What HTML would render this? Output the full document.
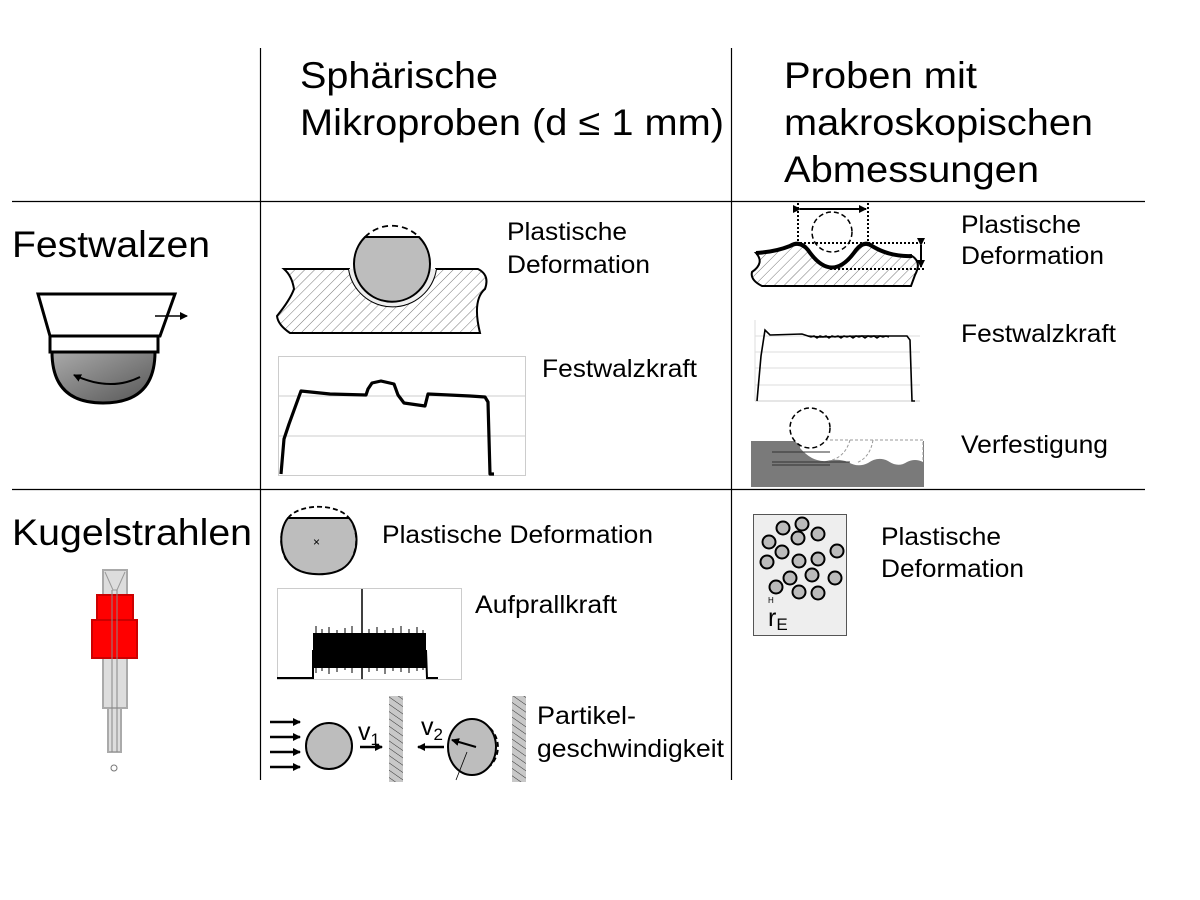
<!DOCTYPE html>
<html><head><meta charset="utf-8"><style>
html,body{margin:0;padding:0;background:#fff;}
svg{display:block;}
text{font-family:"Liberation Sans",Arial,sans-serif;fill:#000;}
</style></head><body>
<svg width="1200" height="900" viewBox="0 0 1200 900" xmlns="http://www.w3.org/2000/svg">
<defs>
<pattern id="h" width="7" height="7" patternUnits="userSpaceOnUse" patternTransform="rotate(45)">
<rect width="7" height="7" fill="#fff"/><line x1="0" y1="0" x2="0" y2="7" stroke="#777" stroke-width="1"/></pattern>
<pattern id="hw" width="6" height="6" patternUnits="userSpaceOnUse" patternTransform="rotate(-55)">
<rect width="6" height="6" fill="#c8c8c8"/><line x1="0" y1="0" x2="0" y2="6" stroke="#333" stroke-width="1"/></pattern>
<linearGradient id="g" x1="0" y1="0" x2="1" y2="1"><stop offset="0" stop-color="#aaa"/><stop offset="1" stop-color="#555"/></linearGradient>
<marker id="a" markerWidth="8" markerHeight="8" refX="7" refY="4" orient="auto" markerUnits="userSpaceOnUse"><path d="M0,0 L8,4 L0,8 z" fill="#000"/></marker>
</defs>

<line x1="260.5" y1="48" x2="260.5" y2="780" stroke="#000" stroke-width="1.2"/>
<line x1="731.5" y1="48" x2="731.5" y2="780" stroke="#000" stroke-width="1.2"/>
<line x1="12" y1="201.5" x2="1145" y2="201.5" stroke="#000" stroke-width="1.2"/>
<line x1="12" y1="489.5" x2="1145" y2="489.5" stroke="#000" stroke-width="1.2"/>

<text x="300" y="88" font-size="37" textLength="198" lengthAdjust="spacingAndGlyphs">Sphärische</text>
<text x="300" y="135" font-size="37" textLength="424" lengthAdjust="spacingAndGlyphs">Mikroproben (d ≤ 1 mm)</text>
<text x="784" y="88" font-size="37" textLength="193" lengthAdjust="spacingAndGlyphs">Proben mit</text>
<text x="784" y="135" font-size="37" textLength="309" lengthAdjust="spacingAndGlyphs">makroskopischen</text>
<text x="784" y="182" font-size="37" textLength="255" lengthAdjust="spacingAndGlyphs">Abmessungen</text>

<text x="12" y="257" font-size="37" textLength="198" lengthAdjust="spacingAndGlyphs">Festwalzen</text>
<text x="12" y="545" font-size="37" textLength="240" lengthAdjust="spacingAndGlyphs">Kugelstrahlen</text>

<!-- roller icon -->
<path d="M52,352 L155,352 Q155,403 103,403 Q52,403 52,352 Z" fill="url(#g)" stroke="#000" stroke-width="3"/>
<path d="M38,294 L175,294 L160,336 L50,336 Z" fill="#fff" stroke="#000" stroke-width="3"/>
<rect x="50" y="336" width="108" height="16" fill="#fff" stroke="#000" stroke-width="3"/>
<line x1="155" y1="316" x2="187" y2="316" stroke="#000" stroke-width="1.5" marker-end="url(#a)"/>
<path d="M140,377 Q110,392 74,375" fill="none" stroke="#000" stroke-width="2" marker-end="url(#a)"/>

<!-- ball on workpiece -->
<path d="M284,269 L349,269 A44,44 0 0 0 436,269 L478,269 Q490,275 485,289 Q472,300 480,333 L290,333 Q278,325 277,316 Q290,300 294,289 Q292,276 284,269 Z" fill="url(#h)" stroke="#000" stroke-width="2"/>
<path d="M349,269 A44,44 0 0 0 436,269 Z" fill="#eee"/>
<path d="M365,237 L419,237 A38,38 0 1 1 365,237 Z" fill="#bdbdbd" stroke="#000" stroke-width="2"/>
<path d="M365,237 A38,38 0 0 1 419,237" fill="none" stroke="#000" stroke-width="1.8" stroke-dasharray="6,4"/>
<text x="507" y="240" font-size="25" textLength="120" lengthAdjust="spacingAndGlyphs">Plastische</text>
<text x="507" y="273" font-size="25" textLength="143" lengthAdjust="spacingAndGlyphs">Deformation</text>

<!-- chart 1 -->
<rect x="278.5" y="356.5" width="247" height="119" fill="#fff" stroke="#ccc"/>
<line x1="278" y1="396" x2="525" y2="396" stroke="#ccc"/>
<line x1="278" y1="436" x2="525" y2="436" stroke="#ccc"/>
<polyline points="281,474 284,439 289,424 301,391 330,394 366,395 368,389 372,383 381,381 394,384 398,395 404,403 425,406 428,394 470,396 485,397 488,402 490,474 494,474" fill="none" stroke="#000" stroke-width="3.2" stroke-linejoin="round"/>
<text x="542" y="377" font-size="25" textLength="155" lengthAdjust="spacingAndGlyphs">Festwalzkraft</text>

<!-- right fig 1 -->
<line x1="798" y1="203" x2="798" y2="243" stroke="#000" stroke-width="2" stroke-dasharray="2,2"/>
<line x1="868" y1="203" x2="868" y2="243" stroke="#000" stroke-width="2" stroke-dasharray="2,2"/>
<line x1="800" y1="209" x2="866" y2="209" stroke="#000" stroke-width="2" marker-end="url(#a)" marker-start="url(#a)"/>
<path d="M756,253 Q775,252 790,246 Q800,240 808,250 Q832,285 856,250 Q864,240 872,246 Q890,257 912,256 Q922,262 915,275 L911,286 L762,286 Q750,280 752,272 Q765,263 756,253 Z" fill="url(#h)" stroke="#000" stroke-width="2"/>
<path d="M756,253 Q775,252 790,246 Q800,240 808,250 Q832,285 856,250 Q864,240 872,246 Q890,257 912,256" fill="none" stroke="#000" stroke-width="4"/>
<circle cx="832" cy="232" r="20" fill="none" stroke="#000" stroke-width="1.5" stroke-dasharray="5,3"/>
<line x1="800" y1="243" x2="925" y2="243" stroke="#000" stroke-width="2" stroke-dasharray="2,2"/>
<line x1="830" y1="269" x2="925" y2="269" stroke="#000" stroke-width="2" stroke-dasharray="2,2"/>
<line x1="921" y1="245" x2="921" y2="267" stroke="#000" stroke-width="2" marker-end="url(#a)" marker-start="url(#a)"/>
<text x="961" y="233" font-size="25" textLength="120" lengthAdjust="spacingAndGlyphs">Plastische</text>
<text x="961" y="264" font-size="25" textLength="143" lengthAdjust="spacingAndGlyphs">Deformation</text>

<!-- chart 2 -->
<line x1="755" y1="336" x2="920" y2="336" stroke="#ddd"/>
<line x1="755" y1="352" x2="920" y2="352" stroke="#ddd"/>
<line x1="755" y1="368" x2="920" y2="368" stroke="#ddd"/>
<line x1="755" y1="385" x2="920" y2="385" stroke="#ddd"/>
<line x1="755" y1="401" x2="920" y2="401" stroke="#ccc"/>
<line x1="755" y1="320" x2="755" y2="401" stroke="#ddd"/>
<polyline points="757,401 761,356 765,330 770,335 802,334 808,336 820,337 860,336 880,336 907,336 910,340 912,401 915,401" fill="none" stroke="#000" stroke-width="1.6"/>
<path d="M808,336 l3,1 3,-1 3,2 3,-2 3,1 3,-1 3,2 3,-2 3,1 3,-1 3,2 3,-2 3,1 3,-1 3,2 3,-2 3,1 3,-1 3,2 3,-2 3,1 3,-1 3,2 3,-2 3,1 3,-1 3,1" fill="none" stroke="#000" stroke-width="1.5"/>
<text x="961" y="342" font-size="25" textLength="155" lengthAdjust="spacingAndGlyphs">Festwalzkraft</text>

<!-- Verfestigung -->
<rect x="751" y="441" width="173" height="46" fill="#7a7a7a"/>
<path d="M800,440 L923,440 L923,462 Q915,458 907,462 Q898,468 888,461 Q878,456 868,463 Q858,468 848,462 Q838,458 826,461 Q812,462 800,448 Z" fill="#fff"/>
<path d="M800,440 L923,440 L923,462" fill="none" stroke="#999" stroke-dasharray="3,2"/>
<circle cx="810" cy="428" r="20" fill="#fff" stroke="#000" stroke-width="1.5" stroke-dasharray="5,3"/>
<path d="M850,440 Q845,458 828,461 M873,440 Q870,458 856,463" fill="none" stroke="#999" stroke-dasharray="3,2"/>
<line x1="772" y1="452" x2="830" y2="452" stroke="#333"/>
<line x1="772" y1="462" x2="850" y2="462" stroke="#333"/>
<line x1="772" y1="465" x2="830" y2="465" stroke="#333"/>
<text x="961" y="453" font-size="25" textLength="147" lengthAdjust="spacingAndGlyphs">Verfestigung</text>

<!-- Kugelstrahlen middle -->
<path d="M288,518 L349,518 C360,530 360,558 342,569 C330,576 308,576 296,569 C278,558 278,530 288,518 Z" fill="#bdbdbd" stroke="#000" stroke-width="2"/>
<path d="M288,518 C300,503 337,503 349,518" fill="none" stroke="#000" stroke-width="1.8" stroke-dasharray="5,3"/>
<path d="M284,525 Q277,542 286,560 M353,525 Q360,542 351,560" fill="none" stroke="#000" stroke-width="1.5" stroke-dasharray="5,3"/>
<text x="313" y="546" font-size="12">×</text>
<text x="382" y="543" font-size="25" textLength="271" lengthAdjust="spacingAndGlyphs">Plastische Deformation</text>

<rect x="277.5" y="588.5" width="184" height="91" fill="#fff" stroke="#ccc"/>
<rect x="313" y="633" width="113" height="35" fill="#000"/>
<g stroke="#000" stroke-width="1">
<line x1="316" y1="626" x2="316" y2="673"/><line x1="322" y1="629" x2="322" y2="671"/><line x1="329" y1="627" x2="329" y2="674"/>
<line x1="337" y1="630" x2="337" y2="672"/><line x1="345" y1="628" x2="345" y2="670"/><line x1="352" y1="626" x2="352" y2="673"/>
<line x1="369" y1="629" x2="369" y2="672"/><line x1="377" y1="627" x2="377" y2="671"/><line x1="385" y1="630" x2="385" y2="674"/>
<line x1="393" y1="628" x2="393" y2="671"/><line x1="401" y1="626" x2="401" y2="672"/><line x1="409" y1="629" x2="409" y2="673"/>
<line x1="417" y1="627" x2="417" y2="671"/><line x1="423" y1="630" x2="423" y2="670"/>
</g>
<line x1="362" y1="589" x2="362" y2="679" stroke="#000" stroke-width="1.5"/>
<polyline points="277,678 313,678 313,650" fill="none" stroke="#000" stroke-width="2"/>
<polyline points="426,650 427,678 438,678" fill="none" stroke="#000" stroke-width="2"/>
<text x="475" y="613" font-size="25" textLength="142" lengthAdjust="spacingAndGlyphs">Aufprallkraft</text>

<g stroke="#000" stroke-width="2.5">
<line x1="270" y1="722" x2="300" y2="722" marker-end="url(#a)"/>
<line x1="270" y1="737" x2="300" y2="737" marker-end="url(#a)"/>
<line x1="270" y1="752" x2="300" y2="752" marker-end="url(#a)"/>
<line x1="270" y1="767" x2="300" y2="767" marker-end="url(#a)"/>
<line x1="360" y1="747" x2="382" y2="747" marker-end="url(#a)"/>
<line x1="444" y1="747" x2="418" y2="747" marker-end="url(#a)"/>
</g>
<circle cx="329" cy="746" r="23" fill="#bdbdbd" stroke="#000" stroke-width="2"/>
<text x="358" y="740" font-size="25">v<tspan font-size="17" dy="5">1</tspan></text>
<rect x="389" y="696" width="14" height="86" fill="url(#hw)"/>
<text x="421" y="735" font-size="25">v<tspan font-size="17" dy="5">2</tspan></text>
<ellipse cx="472" cy="747" rx="24" ry="28" fill="#bdbdbd" stroke="#000" stroke-width="2"/>
<path d="M490,728 A30,28 0 0 1 490,766" fill="none" stroke="#000" stroke-width="1.8" stroke-dasharray="5,3"/>
<line x1="476" y1="747" x2="452" y2="740" stroke="#000" stroke-width="2" marker-end="url(#a)"/>
<line x1="467" y1="752" x2="456" y2="780" stroke="#000" stroke-width="0.8"/>
<rect x="512" y="696" width="14" height="86" fill="url(#hw)"/>
<text x="537" y="724" font-size="25" textLength="99" lengthAdjust="spacingAndGlyphs">Partikel-</text>
<text x="537" y="757" font-size="25" textLength="187" lengthAdjust="spacingAndGlyphs">geschwindigkeit</text>

<!-- nozzle -->
<rect x="108" y="708" width="13" height="44" fill="#ddd" stroke="#aaa" stroke-width="2"/>
<rect x="103" y="658" width="24" height="50" fill="#ddd" stroke="#aaa" stroke-width="2"/>
<rect x="103" y="570" width="24" height="27" fill="#ddd" stroke="#aaa" stroke-width="2"/>
<path d="M105,572 L113,590 L117,590 L125,572" fill="none" stroke="#999"/>
<rect x="97" y="595" width="36" height="26" fill="#f00" stroke="#c00" stroke-width="2"/>
<rect x="92" y="620" width="45" height="38" fill="#f00" stroke="#c00" stroke-width="2"/>
<line x1="112" y1="590" x2="112" y2="752" stroke="#888"/>
<line x1="117" y1="590" x2="117" y2="752" stroke="#888"/>
<circle cx="114" cy="768" r="3" fill="none" stroke="#777"/>

<!-- right bottom -->
<rect x="753.5" y="514.5" width="93" height="121" fill="#eee" stroke="#555"/>
<g fill="#bbb" stroke="#000" stroke-width="2">
<circle cx="783" cy="528" r="6.5"/><circle cx="802" cy="524" r="6.5"/><circle cx="818" cy="534" r="6.5"/>
<circle cx="769" cy="542" r="6.5"/><circle cx="798" cy="538" r="6.5"/><circle cx="782" cy="552" r="6.5"/>
<circle cx="799" cy="561" r="6.5"/><circle cx="818" cy="559" r="6.5"/><circle cx="837" cy="551" r="6.5"/>
<circle cx="767" cy="562" r="6.5"/><circle cx="790" cy="578" r="6.5"/><circle cx="812" cy="575" r="6.5"/>
<circle cx="835" cy="578" r="6.5"/><circle cx="776" cy="587" r="6.5"/><circle cx="799" cy="592" r="6.5"/>
<circle cx="818" cy="593" r="6.5"/>
</g>
<text x="768" y="603" font-size="8">H</text>
<text x="768" y="626" font-size="25">r<tspan font-size="17" dy="4">E</tspan></text>
<text x="881" y="545" font-size="25" textLength="120" lengthAdjust="spacingAndGlyphs">Plastische</text>
<text x="881" y="577" font-size="25" textLength="143" lengthAdjust="spacingAndGlyphs">Deformation</text>
</svg>
</body></html>
